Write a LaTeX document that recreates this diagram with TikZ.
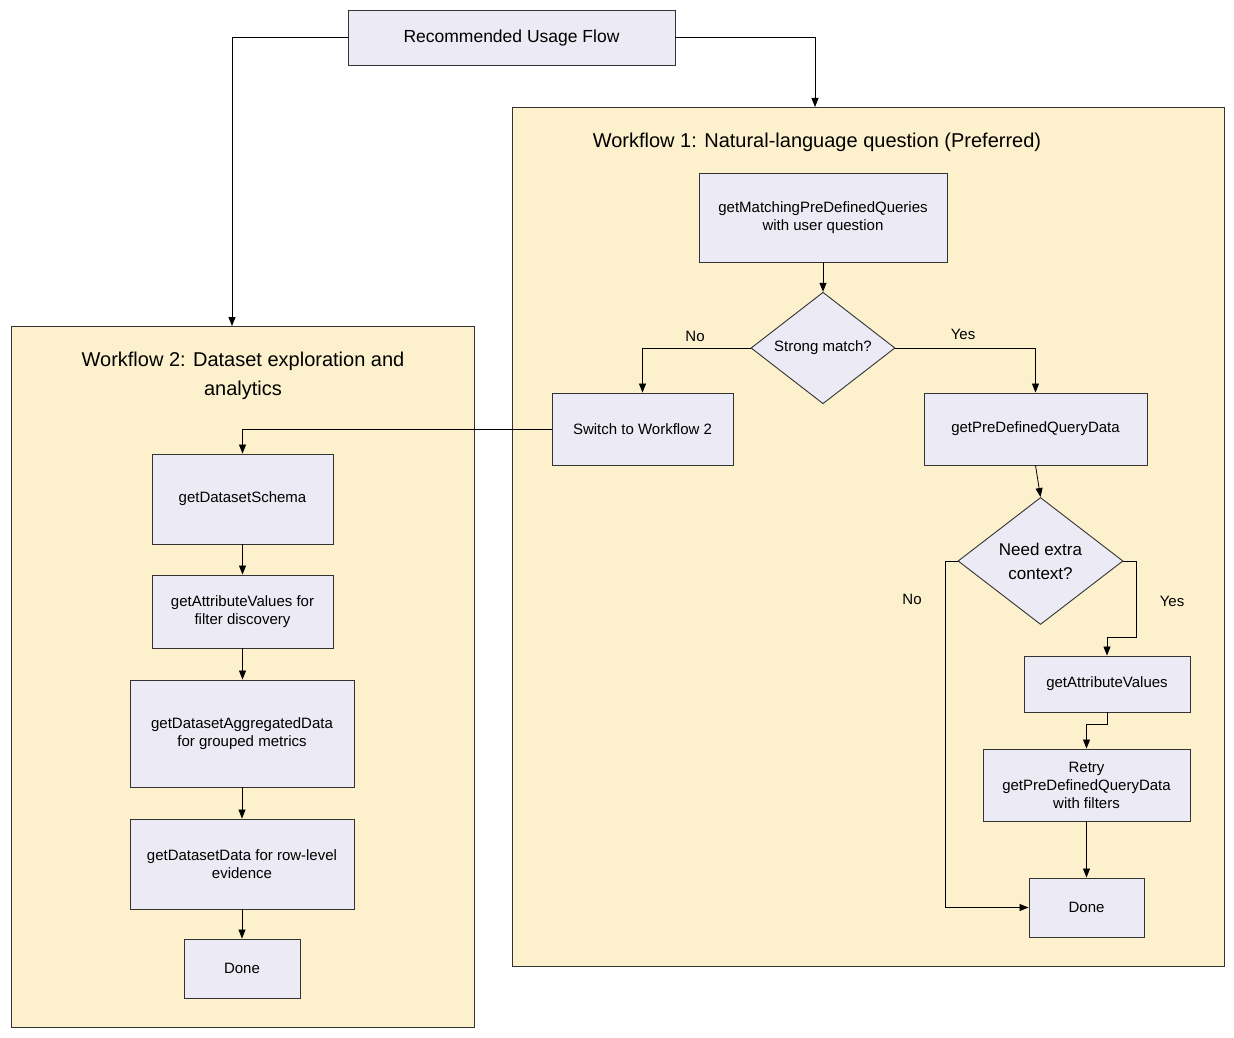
\documentclass[tikz,border=0pt]{standalone}
\usepackage{fontspec}
\setmainfont{Liberation Sans}
\usetikzlibrary{shapes.geometric,arrows.meta}
\definecolor{boxfill}{HTML}{ECEAF4}
\definecolor{contfill}{HTML}{FDF1CD}
\tikzset{
 x=1pt,y=-1pt,
 cont/.style={draw=black!80,fill=contfill,line width=0.9pt},
 proc/.style={draw=black!80,fill=boxfill,line width=0.9pt,align=center,font=\fontsize{15}{18}\selectfont,inner sep=0pt},
 dec/.style={draw=black!80,fill=boxfill,line width=0.9pt,diamond,align=center,inner sep=0pt},
 conn/.style={draw=black,line width=0.8pt,-{Triangle[length=9pt,width=7pt]}},
 lbl/.style={font=\fontsize{15}{18}\selectfont},
 ttl/.style={font=\fontsize{20}{29}\selectfont,align=center}
}
\newcommand{\bx}[6]{\node[#6,minimum width=#4-#2,minimum height=#5-#3] (#1) at ({(#2+#4)/2},{(#3+#5)/2}) {};}
\begin{document}
\begin{tikzpicture}
\useasboundingbox (0,0) rectangle (1234,1038);
\fill[white] (0,0) rectangle (1234,1038);
\draw[cont] (512,107) rectangle (1224,966);
\draw[cont] (11,326) rectangle (474,1027);
\coordinate (w1top) at (815,107);
\coordinate (w2top) at (232,326);
\node[ttl] (t1) at (817,142) {Workflow 1: Natural-language question (Preferred)};
\node[ttl] (t2) at (243,376) {Workflow 2: Dataset exploration and\\analytics};
\node[proc,minimum width=327,minimum height=55,font=\fontsize{17.5}{20}\selectfont] (top) at (511.5,37.5) {Recommended Usage Flow};
\node[proc,minimum width=248,minimum height=89] (gm) at (823,217.5) {getMatchingPreDefinedQueries\\with user question};
\node[dec,minimum width=144,minimum height=108,font=\fontsize{15}{18}\selectfont] (d1) at (823,348) {Strong match?};
\node[proc,minimum width=181,minimum height=72] (sw) at (642.5,429) {Switch to Workflow 2};
\node[proc,minimum width=223,minimum height=72] (gp) at (1035.5,429) {getPreDefinedQueryData};
\node[dec,minimum width=165,minimum height=127,font=\fontsize{17}{24}\selectfont] (d2) at (1040.5,561) {Need extra\\context?};
\node[proc,minimum width=166,minimum height=56] (ga) at (1107,684) {getAttributeValues};
\node[proc,minimum width=207,minimum height=72] (rt) at (1086.5,785) {Retry\\getPreDefinedQueryData\\with filters};
\node[proc,minimum width=115,minimum height=59] (dn1) at (1086.5,907.5) {Done};
\node[proc,minimum width=181,minimum height=90] (s1) at (242.5,499) {getDatasetSchema};
\node[proc,minimum width=181,minimum height=73] (s2) at (242.5,611.5) {getAttributeValues for\\filter discovery};
\node[proc,minimum width=224,minimum height=107] (s3) at (242,733.5) {getDatasetAggregatedData\\for grouped metrics};
\node[proc,minimum width=224,minimum height=90] (s4) at (242,864) {getDatasetData for row-level\\evidence};
\node[proc,minimum width=116,minimum height=59] (s5) at (242,968.5) {Done};
% connectors
\draw[conn] (top.west) -| (w2top);
\draw[conn] (top.east) -| (w1top);
\draw[conn] (gm.south) -- (d1.north);
\draw[conn] (d1.west) -| (sw.north);
\draw[conn] (d1.east) -| (gp.north);
\node[lbl] (no1) at (695,336) {No};
\node[lbl] (yes1) at (963,334) {Yes};
\draw[conn] (sw.west) -| (s1.north);
\draw[conn] (gp.south) -- (d2.north);
\coordinate (c1) at (1136,637);
\draw[conn] (d2.east) -- (1136,561) -- (c1) -| (ga.north);
\node[lbl] (yes2) at (1172,601) {Yes};
\draw[conn] (d2.west) -- (945,561) |- (dn1.west);
\node[lbl] (no2) at (912,599) {No};
\coordinate (c2) at (1107,724);
\draw[conn] (ga.south) -- (c2) -| (rt.north);
\draw[conn] (rt.south) -- (dn1.north);
\draw[conn] (s1.south) -- (s2.south |- s2.north);
\draw[conn] (s2.south) -- (s2.south |- s3.north);
\draw[conn] (s3.south) -- (s4.north);
\draw[conn] (s4.south) -- (s5.north);
\end{tikzpicture}
\end{document}
